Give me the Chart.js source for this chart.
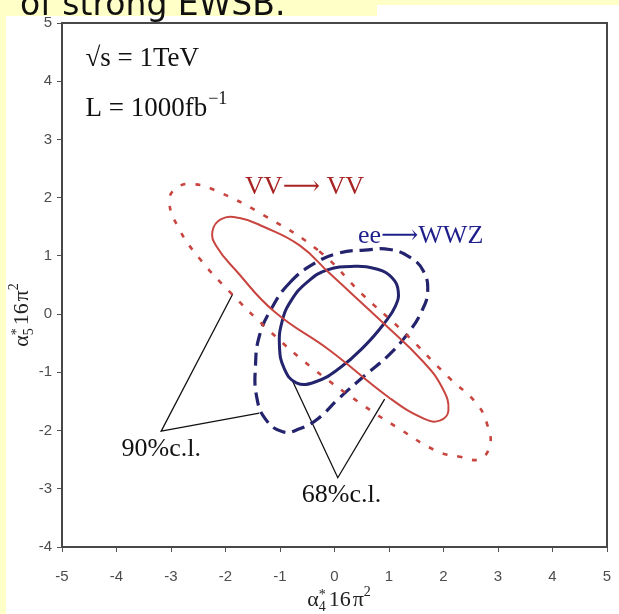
<!DOCTYPE html>
<html>
<head>
<meta charset="utf-8">
<script src="https://cdn.jsdelivr.net/npm/chart.js@4.4.1/dist/chart.umd.min.js"></script>
<style>
  html, body { margin: 0; padding: 0; background: #ffffc8; }
  canvas { display: block; }
</style>
</head>
<body>
<canvas id="ellipses" width="619" height="614"></canvas>
<script>
const xTicks = [-5, -4, -3, -2, -1, 0, 1, 2, 3, 4, 5];
const yTicks = [-4, -3, -2, -1, 0, 1, 2, 3, 4, 5];

// contours, [alpha4, alpha5] (times 16 pi^2); each one is closed
const vv68 = [[-0.09, 0.70], [0.88, -0.14], [1.62, -0.81], [1.98, -1.27], [2.09, -1.66], [1.93, -1.83],
  [1.65, -1.80], [1.01, -1.44], [-0.09, -0.62], [-1.10, 0.04], [-1.80, 0.74], [-2.17, 1.17],
  [-2.24, 1.42], [-2.08, 1.63], [-1.74, 1.65], [-1.30, 1.50], [-0.64, 1.18]];
const vv90 = [[-0.28, 1.08], [0.51, 0.34], [1.25, -0.29], [2.11, -1.10], [2.61, -1.54], [2.81, -1.92],
  [2.85, -2.26], [2.66, -2.49], [2.30, -2.45], [1.87, -2.35], [1.19, -1.97], [0.55, -1.58],
  [-0.40, -0.93], [-1.19, -0.29], [-1.93, 0.39], [-2.48, 0.96], [-2.85, 1.46], [-3.03, 1.94],
  [-2.88, 2.18], [-2.57, 2.23], [-2.20, 2.13], [-1.32, 1.71]];
const wwz68 = [[-0.50, 0.55], [-0.13, 0.76], [0.37, 0.82], [0.79, 0.77], [1.06, 0.62], [1.17, 0.39],
  [1.12, 0.14], [0.92, -0.15], [0.55, -0.55], [0.09, -0.93], [-0.37, -1.17], [-0.70, -1.18],
  [-0.92, -0.94], [-1.01, -0.55], [-0.96, -0.12], [-0.79, 0.24]];
const wwz90 = [[-0.83, 0.53], [-0.37, 0.87], [0.09, 1.05], [0.55, 1.10], [1.01, 1.11], [1.38, 0.98],
  [1.63, 0.74], [1.71, 0.39], [1.60, 0.05], [1.38, -0.29], [1.01, -0.69], [0.55, -1.06],
  [0.09, -1.44], [-0.31, -1.80], [-0.64, -1.97], [-0.95, -2.02], [-1.27, -1.80], [-1.43, -1.41],
  [-1.45, -0.89], [-1.38, -0.38], [-1.16, 0.09]];

// leader lines from the c.l. labels
const cl90Leader = [[-1.87, 0.34], [-3.18, -2.01], [-1.38, -1.70]];
const cl68Leader = [[-0.77, -1.15], [0.06, -2.81], [0.92, -1.46]];

// label texts and where they sit (data units)
const noteTexts = ['VV\u27f6 VV', 'ee\u27f6WWZ', '90%c.l.', '68%c.l.'];
const noteAnchors = [[-0.55, 2.06], [1.58, 1.22], [-3.18, -2.43], [0.13, -3.22]];

const RED = '#c9453f';
const RED_TEXT = '#a82424';
const BLUE = '#23236e';
const BLUE_TEXT = '#1f1f8c';
const SERIF = '"Liberation Serif", "DejaVu Serif", serif';

const toPts = arr => arr.map(([x, y]) => ({ x, y }));

function curve(points, color, width, dash, tension, closed) {
  return {
    data: toPts(points),
    showLine: true,
    closed: closed,
    borderColor: color,
    borderWidth: width,
    borderDash: dash,
    tension: tension,
    pointRadius: 0,
    pointHoverRadius: 0,
    fill: false
  };
}

// alpha_n^* 16 pi^2
function drawAlphaTitle(ctx, sub, cx, baseline) {
  const big = '22px ' + SERIF, small = '14px ' + SERIF;
  ctx.font = big;
  const wA = ctx.measureText('\u03b1').width;
  const w16 = ctx.measureText('16').width;
  const wPi = ctx.measureText('\u03c0').width;
  ctx.font = small;
  const wSub = Math.max(ctx.measureText(sub).width, ctx.measureText('*').width);
  const w2 = ctx.measureText('2').width;
  const total = wA + wSub + 3 + w16 + 2 + wPi + w2;
  let x = cx - total / 2;
  ctx.textAlign = 'left';
  ctx.textBaseline = 'alphabetic';
  ctx.font = big;
  ctx.fillText('\u03b1', x, baseline);
  x += wA;
  ctx.font = small;
  ctx.fillText(sub, x, baseline + 5);
  ctx.fillText('*', x, baseline - 7);
  x += wSub + 3;
  ctx.font = big;
  ctx.fillText('16', x, baseline);
  x += w16 + 2;
  ctx.fillText('\u03c0', x, baseline);
  x += wPi;
  ctx.font = small;
  ctx.fillText('2', x, baseline - 10);
}

// close the contour lines into smooth loops (same trick the radar chart uses)
const loopPlugin = {
  id: 'loops',
  afterDatasetsUpdate(chart) {
    chart.data.datasets.forEach((ds, i) => {
      const line = chart.getDatasetMeta(i).dataset;
      if (ds.closed && line) {
        line._loop = true;
        line._fullLoop = true;
        line._pointsUpdated = false;
      }
    });
  }
};

const slidePlugin = {
  id: 'slide',
  beforeDraw(chart) {
    const ctx = chart.ctx;
    ctx.save();
    ctx.fillStyle = '#ffffc8';
    ctx.fillRect(0, 0, chart.width, chart.height);
    ctx.fillStyle = '#ffffff';
    ctx.fillRect(6, 5, chart.width - 6, chart.height - 5);
    ctx.fillStyle = '#ffffc8';
    ctx.fillRect(0, 0, 377, 16);
    ctx.fillStyle = '#111';
    ctx.font = '33px "DejaVu Sans", sans-serif';
    ctx.textBaseline = 'alphabetic';
    ctx.fillText('of strong EWSB.', 20, 15);
    ctx.restore();
  },
  afterDatasetsDraw(chart) {
    const ctx = chart.ctx;
    const { left, right, top, bottom } = chart.chartArea;
    const xs = chart.scales.x, ys = chart.scales.y;
    ctx.save();
    ctx.strokeStyle = '#484848';
    ctx.lineWidth = 2;
    ctx.strokeRect(left, top, right - left, bottom - top);

    ctx.textBaseline = 'alphabetic';
    ctx.font = '26px ' + SERIF;
    const colors = [RED_TEXT, BLUE_TEXT, '#111', '#111'];
    noteTexts.forEach((t, i) => {
      ctx.fillStyle = colors[i];
      ctx.textAlign = 'center';
      ctx.fillText(t, xs.getPixelForValue(noteAnchors[i][0]), ys.getPixelForValue(noteAnchors[i][1]));
    });

    // beam conditions
    ctx.fillStyle = '#111';
    ctx.textAlign = 'left';
    ctx.font = '27px ' + SERIF;
    const bx = xs.getPixelForValue(-4.57);
    ctx.fillText('\u221as = 1TeV', bx, ys.getPixelForValue(4.27));
    const ly = ys.getPixelForValue(3.41);
    ctx.fillText('L = 1000fb', bx, ly);
    const wl = ctx.measureText('L = 1000fb').width;
    ctx.font = '18px ' + SERIF;
    ctx.fillText('\u22121', bx + wl + 1, ly - 12);

    // axis titles
    ctx.fillStyle = '#222';
    drawAlphaTitle(ctx, '4', 339, 606);
    ctx.translate(28, 315);
    ctx.rotate(-Math.PI / 2);
    drawAlphaTitle(ctx, '5', 0, 0);
    ctx.restore();
  }
};

const tickFont = { family: '"Liberation Sans", Arial, sans-serif', size: 15 };

new Chart(document.getElementById('ellipses'), {
  type: 'scatter',
  data: {
    datasets: [
      curve(vv90, RED, 2.6, [5, 10], 0.45, true),
      curve(vv68, RED, 2, [], 0.45, true),
      curve(wwz90, BLUE, 3.2, [13, 7], 0.45, true),
      curve(wwz68, BLUE, 3, [], 0.45, true),
      curve(cl90Leader, '#111', 1.3, [], 0, false),
      curve(cl68Leader, '#111', 1.3, [], 0, false)
    ]
  },
  options: {
    responsive: false,
    animation: false,
    devicePixelRatio: 1,
    layout: { padding: { left: 0, right: 12, top: 23, bottom: 0 } },
    plugins: {
      legend: { display: false },
      tooltip: { enabled: false }
    },
    scales: {
      x: {
        type: 'linear',
        min: -5,
        max: 5,
        afterBuildTicks: s => { s.ticks = xTicks.map(v => ({ value: v })); },
        afterFit: s => { s.height = 67; s.paddingLeft = 0; s.paddingRight = 0; },
        ticks: { font: tickFont, color: '#4d4d4d', padding: 16, maxRotation: 0, autoSkip: false },
        grid: { drawOnChartArea: false, drawTicks: true, tickLength: 5, color: '#555' },
        border: { display: false }
      },
      y: {
        type: 'linear',
        min: -4,
        max: 5,
        afterBuildTicks: s => { s.ticks = yTicks.map(v => ({ value: v })); },
        afterFit: s => { s.width = 62; s.paddingTop = 0; s.paddingBottom = 0; },
        ticks: { font: tickFont, color: '#4d4d4d', padding: 5, autoSkip: false },
        grid: { drawOnChartArea: false, drawTicks: true, tickLength: 5, color: '#555' },
        border: { display: false }
      }
    }
  },
  plugins: [loopPlugin, slidePlugin]
});
</script>
</body>
</html>
